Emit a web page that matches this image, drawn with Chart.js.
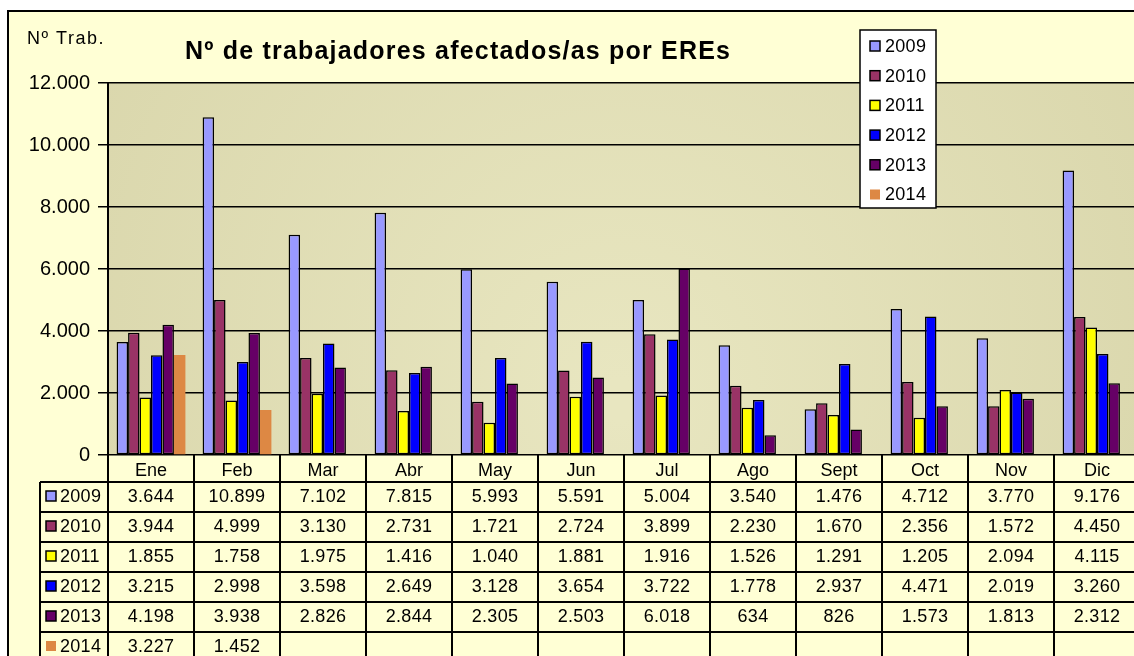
<!DOCTYPE html>
<html>
<head>
<meta charset="utf-8">
<script src="https://cdn.jsdelivr.net/npm/chart.js@4"></script>
<style>
  html, body { margin: 0; padding: 0; background: #fff; overflow: hidden; }
  #wrap { position: relative; width: 1150px; height: 670px; }
</style>
</head>
<body>
<div id="wrap"><canvas id="ereChart" width="1150" height="670"></canvas></div>
<script>
// Datos: Nº de trabajadores afectados por EREs
const months = ["Ene", "Feb", "Mar", "Abr", "May", "Jun", "Jul", "Ago", "Sept", "Oct", "Nov", "Dic"];
const years = ["2009", "2010", "2011", "2012", "2013", "2014"];
const y2009 = [3644, 10899, 7102, 7815, 5993, 5591, 5004, 3540, 1476, 4712, 3770, 9176];
const y2010 = [3944, 4999, 3130, 2731, 1721, 2724, 3899, 2230, 1670, 2356, 1572, 4450];
const y2011 = [1855, 1758, 1975, 1416, 1040, 1881, 1916, 1526, 1291, 1205, 2094, 4115];
const y2012 = [3215, 2998, 3598, 2649, 3128, 3654, 3722, 1778, 2937, 4471, 2019, 3260];
const y2013 = [4198, 3938, 2826, 2844, 2305, 2503, 6018, 634, 826, 1573, 1813, 2312];
const y2014 = [3227, 1452, null, null, null, null, null, null, null, null, null, null];
const yTicks = [0, 2000, 4000, 6000, 8000, 10000, 12000];

const series = [y2009, y2010, y2011, y2012, y2013, y2014];
const colors = ["#9999ff", "#993366", "#ffff00", "#0000ff", "#660066", "#dd8844"];
const FONT = "'Liberation Sans', Arial, sans-serif";

// 12.000 style
const fmt = n => String(n).replace(/\B(?=(\d{3})+(?!\d))/g, ".");

// marker square used by legend and table
function marker(ctx, x, y, i) {
  ctx.fillStyle = colors[i];
  ctx.fillRect(x, y - 5, 10, 10);
  if (i < 5) {
    ctx.strokeStyle = "#000";
    ctx.lineWidth = 1.5;
    ctx.strokeRect(x, y - 5, 10, 10);
  }
}

const decoPlugin = {
  id: "deco",
  beforeDraw(chart) {
    const ctx = chart.ctx;
    const a = chart.chartArea;
    ctx.save();
    // outer frame
    ctx.fillStyle = "#ffffd5";
    ctx.fillRect(8, 11, 1160, 700);
    ctx.strokeStyle = "#000";
    ctx.lineWidth = 2;
    ctx.strokeRect(8, 11, 1160, 700);
    // plot background
    const g = ctx.createRadialGradient(620, 400, 20, 620, 300, 620);
    g.addColorStop(0, "#e8e6c0");
    g.addColorStop(1, "#d9d6ab");
    ctx.fillStyle = g;
    ctx.fillRect(a.left, a.top, a.right - a.left, a.bottom - a.top);
    ctx.restore();
  },
  afterDraw(chart) {
    const ctx = chart.ctx;
    const a = chart.chartArea;
    const xs = chart.scales.x;
    const half = (xs.getPixelForValue(1) - xs.getPixelForValue(0)) / 2;
    ctx.save();

    // data table
    const headTop = a.bottom, headBot = a.bottom + 27, rowH = 30;
    const tabLeft = 40;
    const nRows = years.length;
    const bottom = headBot + rowH * nRows;
    ctx.strokeStyle = "#000";
    ctx.lineWidth = 2;
    ctx.beginPath();
    // vertical lines
    ctx.moveTo(a.left, headTop); ctx.lineTo(a.left, bottom);
    ctx.moveTo(tabLeft, headBot); ctx.lineTo(tabLeft, bottom);
    months.forEach((m, i) => {
      const xr = xs.getPixelForValue(i) + half;
      ctx.moveTo(xr, headTop); ctx.lineTo(xr, bottom);
    });
    // horizontal lines
    for (let r = 0; r <= nRows; r++) {
      const y = headBot + r * rowH;
      ctx.moveTo(tabLeft, y); ctx.lineTo(a.right + 20, y);
    }
    ctx.stroke();

    ctx.fillStyle = "#000";
    ctx.font = "18px " + FONT;
    ctx.textBaseline = "middle";
    ctx.letterSpacing = "0.3px";
    years.forEach((yr, r) => {
      const yc = headBot + r * rowH + rowH / 2;
      marker(ctx, 46, yc - 1, r);
      ctx.fillStyle = "#000";
      ctx.textAlign = "left";
      ctx.fillText(yr, 60, yc);
      ctx.textAlign = "center";
      series[r].forEach((v, i) => {
        if (v === null) return;
        ctx.fillText(fmt(v), xs.getPixelForValue(i), yc);
      });
    });

    // title and axis caption
    ctx.textAlign = "left";
    ctx.textBaseline = "alphabetic";
    ctx.font = "bold 25px " + FONT;
    ctx.letterSpacing = "1.2px";
    ctx.fillText("Nº de trabajadores afectados/as por EREs", 185, 59);
    ctx.font = "18px " + FONT;
    ctx.letterSpacing = "1.5px";
    ctx.fillText("Nº Trab.", 27, 44);

    // legend
    ctx.letterSpacing = "0.3px";
    ctx.fillStyle = "#fff";
    ctx.fillRect(860, 30, 76, 178);
    ctx.strokeStyle = "#000";
    ctx.lineWidth = 1.5;
    ctx.strokeRect(860, 30, 76, 178);
    ctx.font = "18px " + FONT;
    ctx.textBaseline = "middle";
    years.forEach((yr, r) => {
      const yc = 46 + r * 29.7;
      marker(ctx, 870, yc, r);
      ctx.fillStyle = "#000";
      ctx.fillText(yr, 885, yc + 1);
    });
    ctx.restore();
  }
};

new Chart(document.getElementById("ereChart").getContext("2d"), {
  type: "bar",
  data: {
    labels: months,
    datasets: years.map((yr, i) => ({
      label: yr,
      data: series[i],
      backgroundColor: colors[i],
      borderColor: "#000",
      borderWidth: i < 5 ? 1.5 : 0,
      borderSkipped: false,
      categoryPercentage: 0.8,
      barPercentage: 1.0
    }))
  },
  options: {
    responsive: false,
    animation: false,
    layout: { padding: { left: 0, top: 83, right: 10, bottom: 188 } },
    plugins: {
      legend: { display: false },
      tooltip: { enabled: false }
    },
    scales: {
      x: {
        grid: { display: false, drawTicks: false },
        border: { display: false },
        ticks: { color: "#000", font: { family: FONT, size: 18 }, padding: 5, maxRotation: 0 },
        afterFit: s => { s.height = 27; }
      },
      y: {
        min: 0,
        max: 12000,
        afterBuildTicks: s => { s.ticks = yTicks.map(v => ({ value: v })); },
        ticks: {
          color: "#000",
          font: { family: FONT, size: 20 },
          padding: 8,
          callback: v => fmt(v)
        },
        grid: { color: "#000", lineWidth: 1.5, tickLength: 10 },
        border: { color: "#000", width: 2 },
        afterFit: s => { s.width = 108; }
      }
    }
  },
  plugins: [decoPlugin]
});
</script>
</body>
</html>
